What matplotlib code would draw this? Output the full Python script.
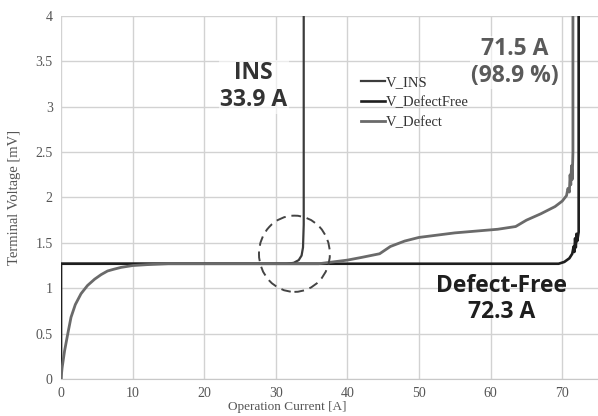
import matplotlib
matplotlib.use("Agg")
import matplotlib.pyplot as plt
from matplotlib.patches import Ellipse

# V-I curves (current in A, voltage in mV)
ins_i = [0, 10, 20, 30, 31.5, 32.5, 33.2, 33.6, 33.8, 33.9, 33.9]
ins_v = [1.27, 1.27, 1.27, 1.27, 1.27, 1.28, 1.31, 1.36, 1.45, 1.7, 4.3]

free_i = [0, 0, 10, 20, 30, 40, 50, 60, 69.5, 70.3, 71.0, 71.4, 71.6,
          71.7, 71.8, 71.9, 72.0, 72.1, 72.3, 72.3]
free_v = [0, 1.27, 1.27, 1.27, 1.27, 1.27, 1.27, 1.27, 1.27, 1.29, 1.33,
          1.38, 1.46, 1.40, 1.55, 1.45, 1.60, 1.52, 1.62, 4.3]

defect_i = [0, 0.15, 0.5, 1.0, 1.4, 2.0, 2.8, 3.7, 4.7, 5.6, 6.5, 7.4, 8.4,
            10, 12, 15, 20, 30, 36, 38, 40, 42, 44.5, 46, 48, 50, 52, 55,
            58, 61, 63.5, 65, 67, 69, 70, 70.6, 70.8, 71.0, 71.1, 71.2,
            71.3, 71.4, 71.5, 71.5]
defect_v = [0, 0.12, 0.31, 0.52, 0.68, 0.82, 0.94, 1.03, 1.10, 1.15, 1.19,
            1.21, 1.23, 1.25, 1.26, 1.27, 1.27, 1.27, 1.27, 1.29, 1.31,
            1.34, 1.38, 1.46, 1.52, 1.56, 1.58, 1.61, 1.63, 1.65, 1.68,
            1.75, 1.82, 1.90, 1.96, 2.02, 2.10, 2.06, 2.25, 2.14, 2.35,
            2.20, 2.50, 4.3]

plt.rcParams.update({"font.family": "Liberation Serif"})

fig = plt.figure(figsize=(5.98, 4.16), dpi=100)
ax = fig.add_axes([0.102, 0.089, 0.898, 0.8725])

ax.plot(ins_i, ins_v, color="#3c3c3c", lw=1.6, label="V_INS", zorder=3)
ax.plot(free_i, free_v, color="#1e1e1e", lw=1.9, label="V_DefectFree", zorder=4)
ax.plot(defect_i, defect_v, color="#6a6a6a", lw=2.0, label="V_Defect", zorder=5)

ax.set_xlim(0, 75)
ax.set_ylim(0, 4)
ax.set_xticks(range(0, 71, 10))
ax.set_yticks([0, 0.5, 1, 1.5, 2, 2.5, 3, 3.5, 4])
ax.set_yticklabels(["0", "0.5", "1", "1.5", "2", "2.5", "3", "3.5", "4"])
ax.tick_params(length=0, labelsize=10, labelcolor="#555555", pad=6)
ax.grid(True, color="#d2d2d2", lw=1.0)
ax.set_axisbelow(True)
for side in ("top", "right", "left"):
    ax.spines[side].set_visible(False)
ax.spines["bottom"].set_color("#c8c8c8")

ax.set_xlabel("Operation Current [A]", fontsize=9.5, color="#555555")
ax.xaxis.set_label_coords(0.422, -0.062)
ax.set_ylabel("Terminal Voltage [mV]", fontsize=10.5, color="#555555")
ax.yaxis.set_label_coords(-0.074, 0.5)

# dashed circle around the INS quench onset
ax.add_patch(Ellipse((32.6, 1.38), 9.9, 0.84, fill=False, ls=(0, (5, 3)),
                     lw=1.4, color="#444444", zorder=6))

sans = "Open Sans"
box = dict(facecolor="white", edgecolor="none", alpha=0.6, pad=1)
ax.text(26.9, 3.22, "INS\n33.9 A", fontsize=16.5, fontweight="bold",
        family=sans, color="#333333", ha="center", va="center",
        linespacing=1.15, bbox=box)
ax.text(63.4, 3.49, "71.5 A\n(98.9 %)", fontsize=16.5, fontweight="bold",
        family=sans, color="#5a5a5a", ha="center", va="center",
        linespacing=1.15, bbox=box)
ax.text(61.5, 0.88, "Defect-Free\n72.3 A", fontsize=16.5, fontweight="bold",
        family=sans, color="#1e1e1e", ha="center", va="center",
        linespacing=1.15)

leg = ax.legend(loc="upper left", bbox_to_anchor=(0.535, 0.87), frameon=False,
                fontsize=10.5, handlelength=1.6, handletextpad=0.05,
                labelspacing=0.45, labelcolor="#333333")

fig.savefig("out.png", dpi=100)
